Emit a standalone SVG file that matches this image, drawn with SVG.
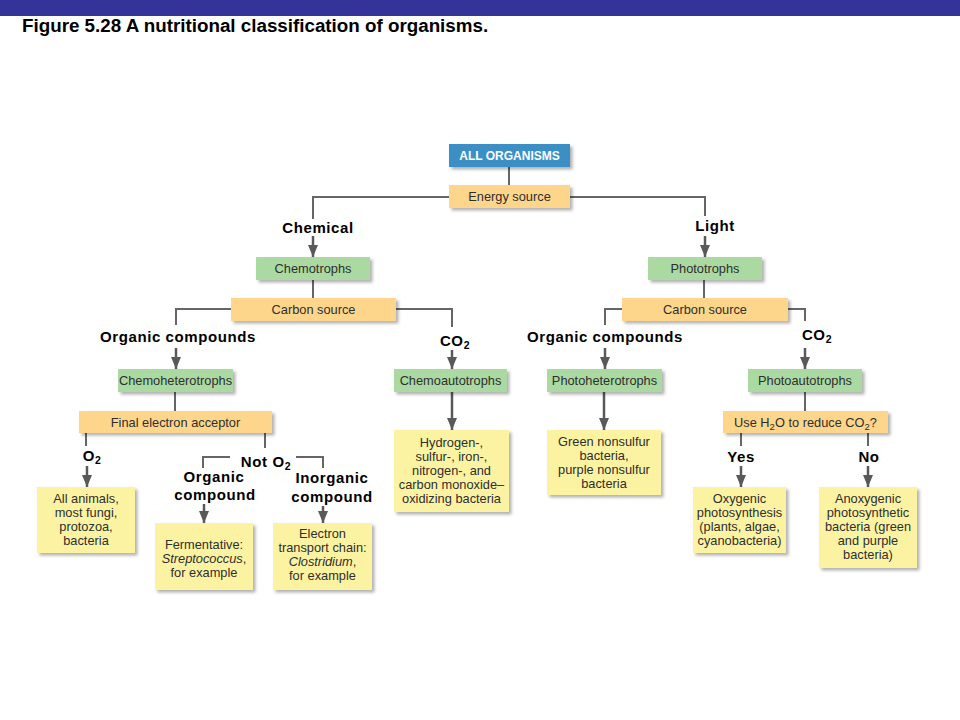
<svg xmlns="http://www.w3.org/2000/svg" width="960" height="720" viewBox="0 0 960 720">
<defs>
<filter id="sh" x="-10%" y="-10%" width="130%" height="140%">
<feDropShadow dx="2.5" dy="2.5" stdDeviation="1.5" flood-color="#000" flood-opacity="0.3"/>
</filter>
<marker id="ah" viewBox="0 0 12 10" refX="12" refY="5" markerWidth="12" markerHeight="10" markerUnits="userSpaceOnUse" orient="auto">
<path d="M0,0 L12,5 L0,10 Z" fill="#595959"/>
</marker>
<style>
.blue{fill:#3b8fc5;filter:url(#sh)}
.org{fill:#fdd68b;filter:url(#sh)}
.grn{fill:#abd9a2;filter:url(#sh)}
.yel{fill:#fcf3a2;filter:url(#sh)}
.bt{font-family:"Liberation Sans",Arial,sans-serif;font-size:12.8px;fill:#2e2e2e;text-anchor:middle}
.wt{font-family:"Liberation Sans",Arial,sans-serif;font-size:12px;font-weight:bold;fill:#fff;text-anchor:middle}
.lb{font-family:"Liberation Sans",Arial,sans-serif;font-size:15px;font-weight:bold;fill:#000;text-anchor:middle;letter-spacing:0.6px}
.ln{stroke:#666;stroke-width:2;fill:none}
.ar{stroke:#595959;stroke-width:2.5;fill:none;marker-end:url(#ah)}
</style>
</defs>
<rect x="0" y="0" width="960" height="720" fill="#fff"/>
<rect x="0" y="0" width="960" height="16" fill="#333399"/>
<text x="22" y="32" font-family="'Liberation Sans',Arial,sans-serif" font-size="18.8" font-weight="bold" fill="#000">Figure 5.28 A nutritional classification of organisms.</text>

<g id="connectors">
<path class="ln" d="M509,167 V185"/>
<path class="ln" d="M449,197 H313 V219"/>
<path class="ln" d="M570,197 H705 V216"/>
<path class="ar" d="M313,236 V257"/>
<path class="ar" d="M705,236 V257"/>
<path class="ln" d="M313,280 V298"/>
<path class="ln" d="M704,280 V298"/>
<path class="ln" d="M231,309 H176 V325"/>
<path class="ln" d="M396,309 H452 V327"/>
<path class="ln" d="M622,309 H605 V325"/>
<path class="ln" d="M788,309 H805 V321"/>
<path class="ar" d="M176,348 V369"/>
<path class="ar" d="M452,350 V369"/>
<path class="ar" d="M605,348 V369"/>
<path class="ar" d="M805,348 V369"/>
<path class="ln" d="M175,392 V411"/>
<path class="ln" d="M805,392 V411"/>
<path class="ar" d="M452,392 V430"/>
<path class="ar" d="M604,392 V430"/>
<path class="ln" d="M86,433 V446"/>
<path class="ar" d="M87,466 V487"/>
<path class="ln" d="M265,433 V448"/>
<path class="ln" d="M203,468 V457 H230"/>
<path class="ln" d="M296,457 H323 V468"/>
<path class="ar" d="M204,504 V523"/>
<path class="ar" d="M323,506 V523"/>
<path class="ln" d="M741,433 V446"/>
<path class="ar" d="M741,466 V487"/>
<path class="ln" d="M868,433 V446"/>
<path class="ar" d="M868,466 V487"/>
</g>

<g id="labels">
<text class="lb" x="318" y="233">Chemical</text>
<text class="lb" x="715" y="231">Light</text>
<text class="lb" x="178" y="342">Organic compounds</text>
<text class="lb" x="455" y="346">CO<tspan font-size="10.5" dy="3">2</tspan></text>
<text class="lb" x="605" y="342">Organic compounds</text>
<text class="lb" x="817" y="340">CO<tspan font-size="10.5" dy="3">2</tspan></text>
<text class="lb" x="92" y="461">O<tspan font-size="10.5" dy="3">2</tspan></text>
<text class="lb" x="266" y="467">Not O<tspan font-size="10.5" dy="3">2</tspan></text>
<text class="lb" x="214" y="482">Organic</text>
<text class="lb" x="215" y="500">compound</text>
<text class="lb" x="332" y="483">Inorganic</text>
<text class="lb" x="332" y="502">compound</text>
<text class="lb" x="741" y="462">Yes</text>
<text class="lb" x="869" y="462">No</text>
</g>

<g id="all-organisms"><rect class="blue" x="449" y="144" width="121" height="23"/><text class="wt" x="509.5" y="160">ALL ORGANISMS</text></g>
<g id="energy-source"><rect class="org" x="449" y="185" width="121" height="23"/><text class="bt" x="509.5" y="201">Energy source</text></g>
<g id="chemotrophs"><rect class="grn" x="256" y="257" width="114" height="23"/><text class="bt" x="313" y="273">Chemotrophs</text></g>
<g id="phototrophs"><rect class="grn" x="648" y="257" width="114" height="23"/><text class="bt" x="705" y="273">Phototrophs</text></g>
<g id="carbon-source-chemo"><rect class="org" x="231" y="298" width="165" height="23"/><text class="bt" x="313.5" y="314">Carbon source</text></g>
<g id="carbon-source-photo"><rect class="org" x="622" y="298" width="166" height="23"/><text class="bt" x="705" y="314">Carbon source</text></g>
<g id="chemoheterotrophs"><rect class="grn" x="118" y="369" width="115" height="23"/><text class="bt" x="175.5" y="385">Chemoheterotrophs</text></g>
<g id="chemoautotrophs"><rect class="grn" x="394" y="369" width="113" height="23"/><text class="bt" x="450.5" y="385">Chemoautotrophs</text></g>
<g id="photoheterotrophs"><rect class="grn" x="547" y="369" width="115" height="23"/><text class="bt" x="604.5" y="385">Photoheterotrophs</text></g>
<g id="photoautotrophs"><rect class="grn" x="748" y="369" width="114" height="23"/><text class="bt" x="805" y="385">Photoautotrophs</text></g>
<g id="final-electron-acceptor"><rect class="org" x="79" y="411" width="193" height="22"/><text class="bt" x="175.5" y="426.5">Final electron acceptor</text></g>
<g id="use-h2o"><rect class="org" x="723" y="411" width="165" height="22"/><text class="bt" x="805.5" y="426.5">Use H<tspan font-size="9.5" dy="3">2</tspan><tspan dy="-3">O to reduce CO</tspan><tspan font-size="9.5" dy="3">2</tspan><tspan dy="-3">?</tspan></text></g>

<g id="all-animals"><rect class="yel" x="37" y="487" width="98" height="66"/>
<text class="bt" x="86"><tspan x="86" y="503">All animals,</tspan><tspan x="86" y="517">most fungi,</tspan><tspan x="86" y="531">protozoa,</tspan><tspan x="86" y="545">bacteria</tspan></text></g>
<g id="fermentative"><rect class="yel" x="155" y="523" width="98" height="67"/>
<text class="bt"><tspan x="204" y="549">Fermentative:</tspan><tspan x="204" y="563" font-style="italic">Streptococcus<tspan font-style="normal">,</tspan></tspan><tspan x="204" y="577">for example</tspan></text></g>
<g id="electron-transport"><rect class="yel" x="273" y="523" width="99" height="67"/>
<text class="bt"><tspan x="322.5" y="538">Electron</tspan><tspan x="322.5" y="552">transport chain:</tspan><tspan x="322.5" y="566" font-style="italic">Clostridium<tspan font-style="normal">,</tspan></tspan><tspan x="322.5" y="580">for example</tspan></text></g>
<g id="hydrogen-oxidizers"><rect class="yel" x="394" y="430" width="115" height="82"/>
<text class="bt"><tspan x="451.5" y="447">Hydrogen-,</tspan><tspan x="451.5" y="461">sulfur-, iron-,</tspan><tspan x="451.5" y="475">nitrogen-, and</tspan><tspan x="451.5" y="489">carbon monoxide–</tspan><tspan x="451.5" y="503">oxidizing bacteria</tspan></text></g>
<g id="green-nonsulfur"><rect class="yel" x="547" y="430" width="114" height="65"/>
<text class="bt"><tspan x="604" y="446">Green nonsulfur</tspan><tspan x="604" y="460">bacteria,</tspan><tspan x="604" y="474">purple nonsulfur</tspan><tspan x="604" y="488">bacteria</tspan></text></g>
<g id="oxygenic"><rect class="yel" x="693" y="487" width="93" height="66"/>
<text class="bt"><tspan x="739.5" y="503">Oxygenic</tspan><tspan x="739.5" y="517">photosynthesis</tspan><tspan x="739.5" y="531">(plants, algae,</tspan><tspan x="739.5" y="545">cyanobacteria)</tspan></text></g>
<g id="anoxygenic"><rect class="yel" x="819" y="487" width="98" height="81"/>
<text class="bt"><tspan x="868" y="503">Anoxygenic</tspan><tspan x="868" y="517">photosynthetic</tspan><tspan x="868" y="531">bacteria (green</tspan><tspan x="868" y="545">and purple</tspan><tspan x="868" y="559">bacteria)</tspan></text></g>
</svg>
